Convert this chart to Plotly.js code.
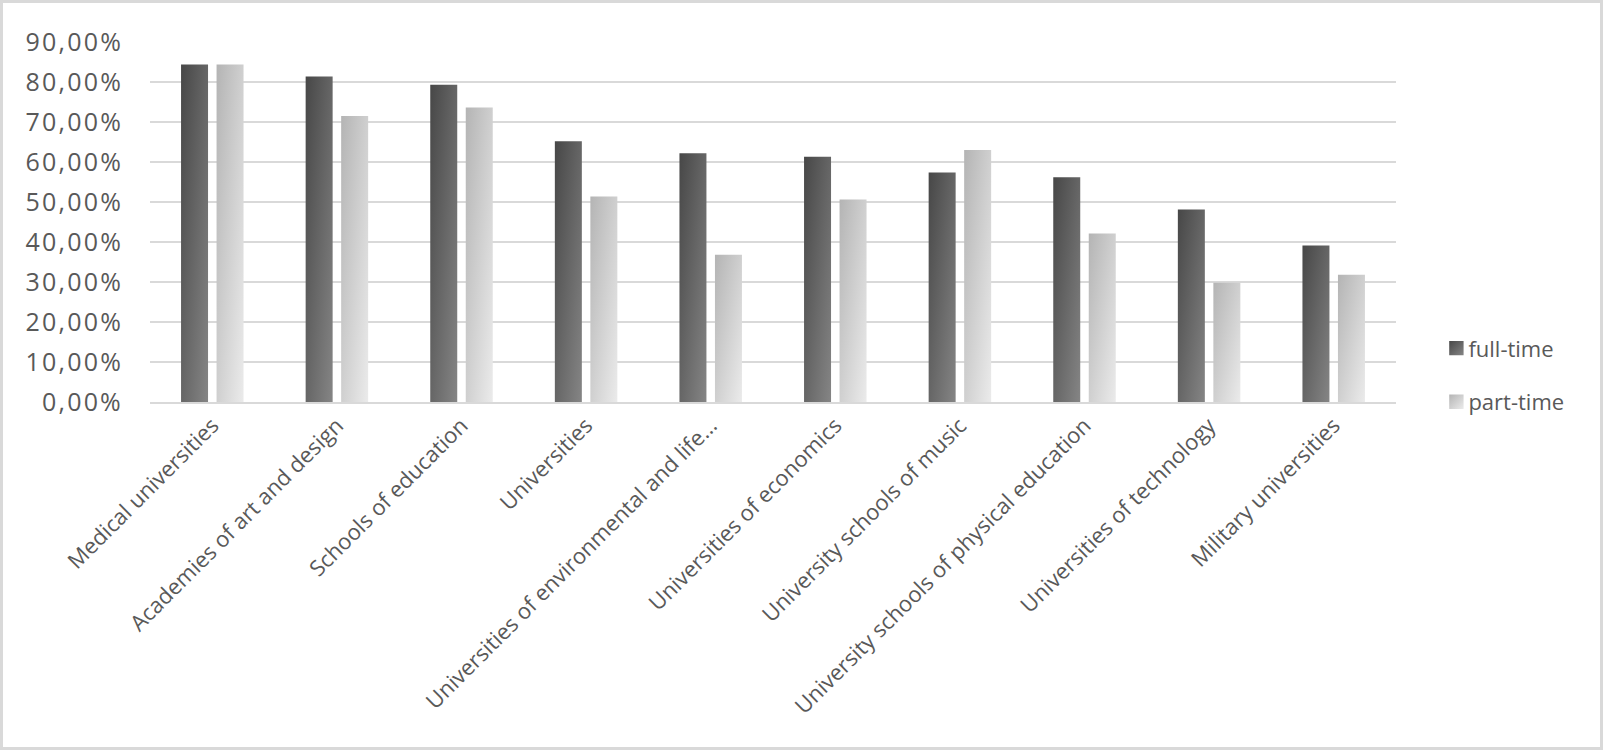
<!DOCTYPE html>
<html>
<head>
<meta charset="utf-8">
<script src="https://cdn.plot.ly/plotly-3.0.1.min.js"></script>
<style>
  html, body { margin: 0; padding: 0; background: #fff; }
  #wrap { position: relative; width: 1603px; height: 750px; }
  #chart { width: 1603px; height: 750px; }
  #frame {
    position: absolute; left: 0; top: 0; width: 1603px; height: 750px;
    box-sizing: border-box; border: 3px solid #d9d9d9; pointer-events: none;
  }
  /* Excel's tick font is wider than Open Sans */
  #chart .ytick text { letter-spacing: 2.2px; }
</style>
</head>
<body>
<div id="wrap">
  <div id="chart"></div>
  <div id="frame"></div>
</div>
<script>
// ─── Data (share of students, %) ───
const categories = [
  "Medical universities",
  "Academies of art and design",
  "Schools of education",
  "Universities",
  "Universities of environmental and life...",
  "Universities of economics",
  "University schools of music",
  "University schools of physical education",
  "Universities of technology",
  "Military universities",
];
const fullTime = [84.4, 81.4, 79.3, 65.2, 62.2, 61.3, 57.4, 56.2, 48.1, 39.1];
const partTime = [84.4, 71.5, 73.6, 51.4, 36.8, 50.6, 63.0, 42.1, 29.8, 31.8];
const seriesNames = ["full-time", "part-time"];

const textColor = "#595959";
const gridColor = "#d9d9d9";

const traces = [
  {
    x: categories,
    y: fullTime.map((v) => v / 100),
    type: "bar",
    name: seriesNames[0],
    legendgroup: "a",
    marker: { color: "#666666" },
    hoverinfo: "skip",
  },
  {
    x: categories,
    y: partTime.map((v) => v / 100),
    type: "bar",
    name: seriesNames[1],
    legendgroup: "b",
    marker: { color: "#d0d0d0" },
    hoverinfo: "skip",
  },
];

const layout = {
  width: 1603,
  height: 750,
  paper_bgcolor: "#ffffff",
  plot_bgcolor: "#ffffff",
  separators: ",.",
  font: { family: "Open Sans, sans-serif", color: textColor },
  margin: { l: 150, r: 207, t: 42, b: 348, autoexpand: false },
  barmode: "group",
  bargap: 0.43,
  bargroupgap: 0.24,
  xaxis: {
    type: "category",
    tickangle: -45,
    tickfont: { size: 22, color: textColor },
    showgrid: false,
    showline: true,
    linecolor: gridColor,
    linewidth: 2,
    ticks: "",
    automargin: false,
  },
  yaxis: {
    range: [0, 0.9],
    dtick: 0.1,
    tickformat: ".2%",
    tickfont: { size: 25, color: textColor },
    gridcolor: gridColor,
    gridwidth: 2,
    zeroline: false,
    showline: false,
    ticks: "",
    ticklabelstandoff: 26,
    automargin: false,
  },
  legend: {
    x: 1.026,
    xanchor: "left",
    y: 0.074,
    yanchor: "middle",
    traceorder: "grouped",
    tracegroupgap: 22,
    font: { size: 22, color: textColor },
    bgcolor: "rgba(0,0,0,0)",
  },
  showlegend: true,
};

// ─── Gradient fills (Plotly bars have no gradient option) ───
function applyGradients(gd) {
  const svg = gd.querySelector("svg.main-svg");
  if (!svg) return;
  const ns = "http://www.w3.org/2000/svg";
  if (!svg.querySelector("#gradFull")) {
    const defs = document.createElementNS(ns, "defs");
    const stops = [
      ["gradFull", "#474747", "#858585"],
      ["gradPart", "#b4b4b4", "#ebebeb"],
    ];
    for (const [id, c0, c1] of stops) {
      const g = document.createElementNS(ns, "linearGradient");
      g.setAttribute("id", id);
      g.setAttribute("x1", "0");
      g.setAttribute("y1", "0");
      g.setAttribute("x2", "1");
      g.setAttribute("y2", "1");
      const s0 = document.createElementNS(ns, "stop");
      s0.setAttribute("offset", "0");
      s0.setAttribute("stop-color", c0);
      const s1 = document.createElementNS(ns, "stop");
      s1.setAttribute("offset", "1");
      s1.setAttribute("stop-color", c1);
      g.appendChild(s0);
      g.appendChild(s1);
      defs.appendChild(g);
    }
    svg.insertBefore(defs, svg.firstChild);
  }
  const ids = ["url(#gradFull)", "url(#gradPart)"];
  gd.querySelectorAll(".barlayer .trace.bars").forEach((t, i) => {
    t.querySelectorAll("path").forEach((p) => { p.style.fill = ids[i]; });
  });
  // legend swatches: Excel's are a bit larger and sit closer to the text
  gd.querySelectorAll(".legend .traces").forEach((t, i) => {
    const pts = t.querySelector(".legendpoints");
    if (pts) pts.setAttribute("transform", "translate(4,0) scale(1.2)");
    t.querySelectorAll(".legendpoints path").forEach((p) => { p.style.fill = ids[i]; });
  });
}

const gd = document.getElementById("chart");
Plotly.newPlot(gd, traces, layout, { staticPlot: true, displayModeBar: false })
  .then(() => {
    applyGradients(gd);
    gd.on("plotly_afterplot", () => applyGradients(gd));
  });
</script>
</body>
</html>
